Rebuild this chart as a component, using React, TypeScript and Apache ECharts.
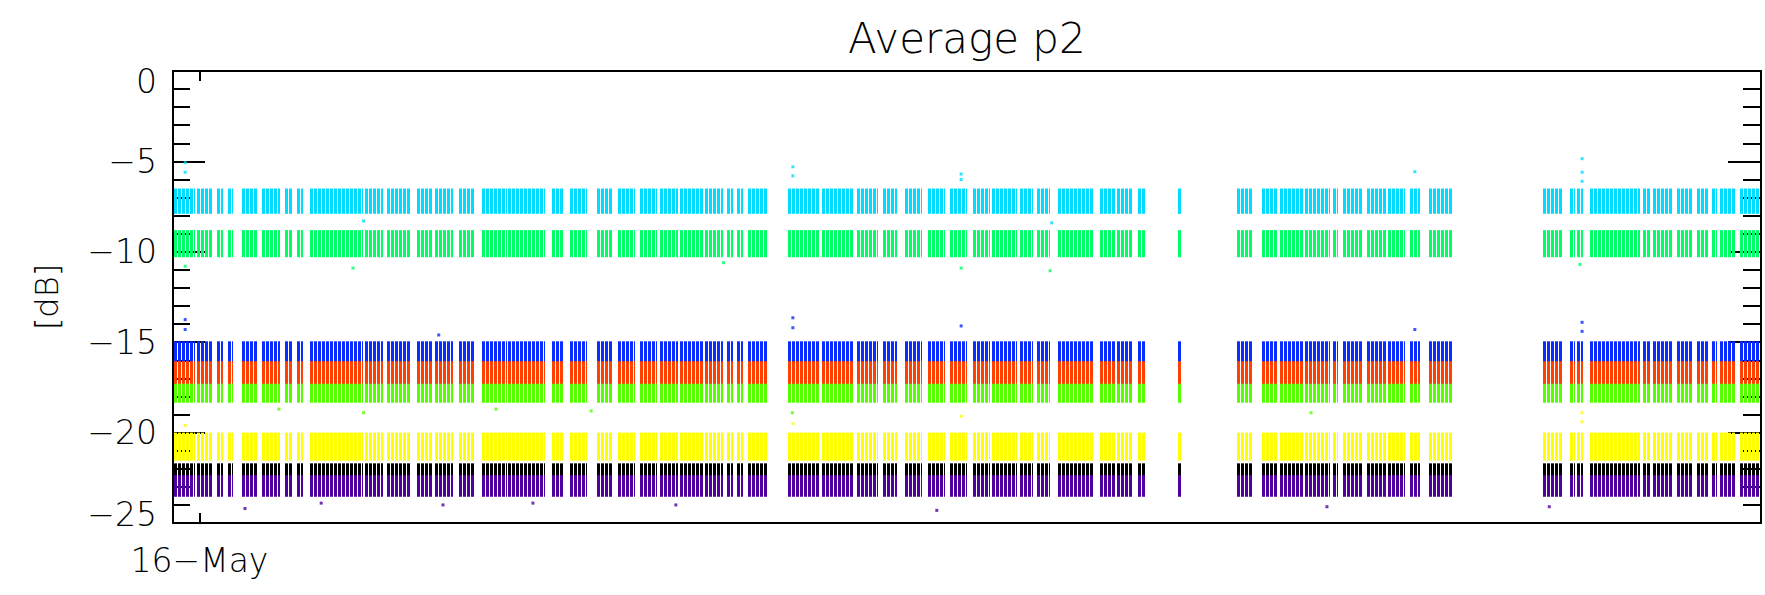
import React, { useEffect, useRef } from "react";
import * as echarts from "echarts";

// Time in days since 16-May 00:00
const X_MIN = -0.5;
const X_MAX = 29.5;
const X_TICKS = [0];
const X_TICK_LABELS = ["16−May"];

// Y axis (dB)
const Y_MIN = -25;
const Y_MAX = 0;
const Y_STEP = 5;

// Streak clusters: [start day, end day] — same sampling times for all channels
const CLUSTERS: [number, number][] = [
  [-0.5, -0.09], [-0.05, 0.26], [0.33, 0.44], [0.54, 0.63], [0.8, 1.09], [1.18, 1.52],
  [1.62, 1.75], [1.84, 1.96], [2.09, 2.6], [2.62, 3.09], [3.13, 3.47], [3.54, 3.98],
  [4.11, 4.41], [4.45, 4.79], [4.9, 5.2], [5.34, 5.81], [5.83, 6.19], [6.21, 6.53],
  [6.66, 6.87], [7.0, 7.32], [7.51, 7.81], [7.91, 8.23], [8.32, 8.64], [8.7, 9.04],
  [9.08, 9.51], [9.55, 9.89], [9.97, 10.08], [10.16, 10.27], [10.36, 10.72],
  [11.12, 11.72], [11.76, 12.35], [12.42, 12.82], [12.91, 13.18], [13.33, 13.65],
  [13.76, 14.08], [14.18, 14.5], [14.61, 14.93], [14.97, 15.44], [15.5, 15.75],
  [15.82, 16.07], [16.22, 16.88], [17.01, 17.3], [17.34, 17.64], [17.73, 17.86],
  [18.49, 18.56],
  [19.6, 19.9], [20.07, 20.36], [20.42, 20.85], [20.89, 21.36], [21.42, 21.51],
  [21.61, 21.98], [22.06, 22.43], [22.45, 22.77], [22.87, 23.06], [23.22, 23.68],
  [25.38, 25.76], [25.89, 25.99], [26.02, 26.14], [26.27, 27.21], [27.27, 27.4],
  [27.46, 27.82], [27.92, 28.2], [28.29, 28.5], [28.57, 28.67], [28.73, 29.01],
  [29.1, 29.5],
];

// Channels (drawn in this order)
const CHANNELS = ["ch1", "ch2", "ch3", "ch4", "ch5", "ch6", "ch7", "ch8"];
const COLORS = ["#00DCFF", "#00FF66", "#0A2CFF", "#FF4000", "#55FF00", "#FFFF00", "#000000", "#50009E"];
// Dense band of each channel (dB)
const BAND_TOP = [-6.5, -8.8, -14.95, -16.05, -17.3, -20.0, -21.7, -22.35];
const BAND_BOTTOM = [-7.9, -10.3, -16.1, -17.4, -18.35, -21.55, -22.5, -23.55];

// Isolated points outside the dense bands [day, dB]
const OUTLIERS_CH1: [number, number][] = [
  [-0.27, -5.07], [-0.27, -5.6], [11.21, -5.3], [11.21, -5.8], [14.39, -5.7], [14.39, -6.0],
  [22.96, -5.57], [26.12, -4.85], [26.12, -5.6], [26.12, -6.1], [3.1, -8.3], [16.1, -8.4],
];
const OUTLIERS_CH2: [number, number][] = [
  [2.9, -10.9], [16.07, -11.05], [14.39, -10.9], [26.08, -10.7], [-0.27, -10.8], [9.9, -10.6],
];
const OUTLIERS_CH3: [number, number][] = [
  [-0.27, -13.75], [-0.27, -14.3], [11.21, -13.65], [11.21, -14.2], [26.12, -13.9], [26.12, -14.4],
  [4.52, -14.6], [14.39, -14.1], [22.96, -14.3],
];
const OUTLIERS_CH4: [number, number][] = [];
const OUTLIERS_CH5: [number, number][] = [
  [3.1, -18.9], [11.2, -18.9], [7.4, -18.8], [21.0, -18.9], [1.5, -18.7], [5.6, -18.7],
];
const OUTLIERS_CH6: [number, number][] = [
  [14.39, -19.1], [26.12, -18.9], [26.12, -19.4], [-0.27, -19.6], [11.21, -19.5],
];
const OUTLIERS_CH7: [number, number][] = [];
const OUTLIERS_CH8: [number, number][] = [
  [0.86, -24.2], [13.93, -24.3], [9.0, -24.0], [4.6, -24.0], [21.3, -24.1], [25.5, -24.1],
  [2.3, -23.9], [6.3, -23.9],
];
const OUTLIERS = [
  OUTLIERS_CH1, OUTLIERS_CH2, OUTLIERS_CH3, OUTLIERS_CH4,
  OUTLIERS_CH5, OUTLIERS_CH6, OUTLIERS_CH7, OUTLIERS_CH8,
];

const FONT = "DejaVu Sans";
const WEIGHT = 300;

export default function App() {
  const ref = useRef<HTMLDivElement>(null);

  useEffect(() => {
    if (!ref.current) return;
    const chart = echarts.init(ref.current, null, { renderer: "svg" });

    const bandSeries = CHANNELS.map((name, i) => ({
      type: "custom",
      name,
      xAxisIndex: 0,
      yAxisIndex: 0,
      encode: { x: [0, 1], y: [2, 3] },
      data: CLUSTERS.map(([a, b]) => [a, b, BAND_BOTTOM[i], BAND_TOP[i]]),
      renderItem: (params: any, api: any) => {
        const p0 = api.coord([api.value(0), api.value(3)]);
        const p1 = api.coord([api.value(1), api.value(2)]);
        const cs = params.coordSys;
        const left = Math.round(Math.max(p0[0], cs.x + 1));
        const right = Math.round(Math.min(Math.max(p1[0], p0[0] + 3), cs.x + cs.width - 1));
        const top = p0[1];
        const h = p1[1] - p0[1];
        const children: any[] = [];
        // streaky look: 3px columns separated by 1px gaps
        for (let x = left; x < right; x += 4) {
          children.push({
            type: "rect",
            shape: { x, y: top, width: Math.min(3, right - x), height: h },
            style: { fill: COLORS[i] },
          });
        }
        return { type: "group", children };
      },
      silent: true,
    }));

    const outlierSeries = CHANNELS.map((name, i) => ({
      type: "scatter",
      name: name + " outliers",
      symbol: "rect",
      symbolSize: 3,
      itemStyle: { color: COLORS[i] },
      data: OUTLIERS[i],
      silent: true,
    }));

    const axisLineStyle = { color: "#000", width: 2 };

    chart.setOption({
      animation: false,
      backgroundColor: "#fff",
      title: {
        text: "Average p2",
        left: 843,
        top: 12,
        textStyle: { fontFamily: FONT, fontSize: 42, fontWeight: WEIGHT, color: "#000" },
      },
      grid: { left: 173, right: 4, top: 71, bottom: 72, containLabel: false, outerBoundsMode: "none" },
      xAxis: [
        {
          type: "value",
          position: "bottom",
          min: X_MIN,
          max: X_MAX,
          axisLine: { show: true, onZero: false, lineStyle: axisLineStyle },
          axisTick: { show: true, inside: true, length: 10, customValues: X_TICKS, lineStyle: axisLineStyle },
          axisLabel: {
            show: true,
            customValues: X_TICKS,
            formatter: (v: number) => X_TICK_LABELS[X_TICKS.indexOf(Math.round(v))] ?? "",
            margin: 21,
            fontFamily: FONT,
            fontWeight: WEIGHT,
            fontSize: 33,
            color: "#000",
          },
          splitLine: { show: false },
        },
        {
          type: "value",
          position: "top",
          min: X_MIN,
          max: X_MAX,
          axisLine: { show: true, onZero: false, lineStyle: axisLineStyle },
          axisTick: { show: true, inside: true, length: 10, customValues: X_TICKS, lineStyle: axisLineStyle },
          axisLabel: { show: false },
          splitLine: { show: false },
        },
      ],
      yAxis: [
        {
          type: "value",
          position: "left",
          min: Y_MIN,
          max: Y_MAX,
          interval: Y_STEP,
          name: "[dB]",
          nameLocation: "middle",
          nameRotate: 90,
          nameGap: 110,
          nameTextStyle: { fontFamily: FONT, fontWeight: WEIGHT, fontSize: 32, color: "#000" },
          axisLine: { show: true, onZero: false, lineStyle: axisLineStyle },
          axisTick: { show: true, inside: true, length: 32, lineStyle: axisLineStyle },
          minorTick: { show: true, splitNumber: 5, length: 17, lineStyle: axisLineStyle },
          axisLabel: {
            formatter: (v: number) => {
              const s = v === 0 ? "0" : "−" + Math.abs(v);
              if (v === Y_MAX) return "{down|" + s + "}";
              if (v === Y_MIN) return "{up|" + s + "}";
              return "{n|" + s + "}";
            },
            margin: 16,
            color: "#000",
            rich: {
              n: { fontFamily: FONT, fontWeight: WEIGHT, fontSize: 33, lineHeight: 24, color: "#000" },
              down: { fontFamily: FONT, fontWeight: WEIGHT, fontSize: 33, lineHeight: 24, padding: [20, 0, 0, 0], color: "#000" },
              up: { fontFamily: FONT, fontWeight: WEIGHT, fontSize: 33, lineHeight: 24, padding: [0, 0, 18, 0], color: "#000" },
            },
          },
          splitLine: { show: false },
          minorSplitLine: { show: false },
        },
        {
          type: "value",
          position: "right",
          min: Y_MIN,
          max: Y_MAX,
          interval: Y_STEP,
          axisLine: { show: true, onZero: false, lineStyle: axisLineStyle },
          axisTick: { show: true, inside: true, length: 33, lineStyle: axisLineStyle },
          minorTick: { show: true, splitNumber: 5, length: 18, lineStyle: axisLineStyle },
          axisLabel: { show: false },
          splitLine: { show: false },
          minorSplitLine: { show: false },
        },
      ],
      series: [...bandSeries, ...outlierSeries],
    });

    return () => chart.dispose();
  }, []);

  return (
    <div
      ref={ref}
      style={{ position: "fixed", left: 0, top: 0, width: 1765, height: 595, background: "#fff" }}
    />
  );
}
